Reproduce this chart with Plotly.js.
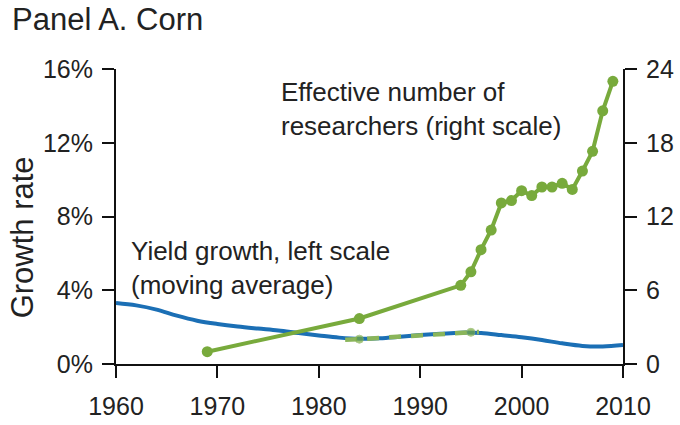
<!DOCTYPE html>
<html>
<head>
<meta charset="utf-8">
<script src="https://cdn.plot.ly/plotly-3.0.1.min.js"></script>
<style>
  html, body { margin: 0; padding: 0; background: white; }
  #chart { width: 680px; height: 425px; }
</style>
</head>
<body>
<div id="chart"></div>
<script>
// Yield growth (left scale, %), moving average
var yieldYears = [1960, 1962, 1964, 1966, 1968, 1970, 1972, 1974, 1976, 1978, 1980, 1982, 1984,
                  1986, 1988, 1990, 1992, 1994, 1996, 1998, 2000, 2002, 2004, 2006, 2008, 2010];
var yieldGrowth = [3.31, 3.18, 2.95, 2.62, 2.35, 2.17, 2.03, 1.92, 1.82, 1.68, 1.55, 1.43, 1.37,
                   1.40, 1.48, 1.57, 1.64, 1.70, 1.68, 1.57, 1.45, 1.30, 1.12, 0.98, 0.95, 1.03];

// Effective number of researchers (right scale)
var resYears = [1969, 1984, 1994, 1995, 1996, 1997, 1998, 1999, 2000, 2001,
                2002, 2003, 2004, 2005, 2006, 2007, 2008, 2009];
var researchers = [1.0, 3.7, 6.4, 7.5, 9.3, 10.9, 13.1, 13.3, 14.1, 13.7,
                   14.4, 14.4, 14.7, 14.2, 15.7, 17.3, 20.6, 23.0];

// faint dashed green segment lying on the yield line
var dashYears = [1982.6, 1984, 1995, 1995.8];
var dashValues = [1.98, 2.02, 2.58, 2.6];

var leftTicks = [0, 4, 8, 12, 16];
var leftLabels = ['0%', '4%', '8%', '12%', '16%'];
var rightTicks = [0, 6, 12, 18, 24];
var xTicks = [1960, 1970, 1980, 1990, 2000, 2010];

var blue = '#1b6fb5';
var green = '#78aa3c';

var traces = [
  {
    x: yieldYears, y: yieldGrowth, yaxis: 'y',
    type: 'scatter', mode: 'lines',
    line: { color: blue, width: 4, shape: 'spline', smoothing: 1.0 },
    hoverinfo: 'skip'
  },
  {
    x: dashYears, y: dashValues, yaxis: 'y2',
    type: 'scatter', mode: 'lines+markers',
    line: { color: '#8ab55a', width: 4.5, dash: '12px,10px' },
    marker: { color: green, size: [0, 8, 8, 0] },
    hoverinfo: 'skip'
  },
  {
    x: resYears, y: researchers, yaxis: 'y2',
    type: 'scatter', mode: 'lines+markers',
    line: { color: green, width: 4 },
    marker: { color: green, size: 11 },
    hoverinfo: 'skip'
  }
];

var tickFont = { family: 'Liberation Sans, Arial, sans-serif', size: 25, color: '#222' };

var layout = {
  width: 680, height: 425,
  plot_bgcolor: 'white', paper_bgcolor: 'white',
  showlegend: false,
  margin: { l: 116, r: 57, t: 69, b: 61 },
  font: { family: 'Liberation Sans, Arial, sans-serif', color: '#222' },
  title: {
    text: 'Panel A. Corn',
    font: { size: 31, color: '#222' },
    x: 12 / 680, xref: 'container', xanchor: 'left',
    y: 1 - 19 / 425, yref: 'container', yanchor: 'middle'
  },
  xaxis: {
    range: [1960, 2010], tickvals: xTicks,
    showgrid: false, zeroline: false,
    showline: true, linecolor: '#111', linewidth: 2,
    ticks: 'outside', ticklen: 12, tickwidth: 2, tickcolor: '#111',
    ticklabelstandoff: 7,
    tickfont: tickFont
  },
  yaxis: {
    range: [0, 16], tickvals: leftTicks, ticktext: leftLabels,
    showgrid: false, zeroline: false,
    showline: true, linecolor: '#111', linewidth: 2,
    ticks: 'outside', ticklen: 12, tickwidth: 2, tickcolor: '#111',
    ticklabelstandoff: 4,
    tickfont: tickFont
  },
  yaxis2: {
    range: [0, 24], tickvals: rightTicks,
    overlaying: 'y', side: 'right',
    showgrid: false, zeroline: false,
    showline: true, linecolor: '#111', linewidth: 2,
    ticks: 'outside', ticklen: 12, tickwidth: 2, tickcolor: '#111',
    ticklabelstandoff: 4,
    tickfont: tickFont
  },
  annotations: [
    {
      text: 'Growth rate', textangle: -90,
      xref: 'paper', yref: 'paper', x: -0.185, y: 0.43,
      xanchor: 'center', yanchor: 'middle', showarrow: false,
      font: { size: 31, color: '#222' }
    },
    {
      text: 'Effective number of<br>researchers (right scale)',
      xref: 'paper', yref: 'paper', x: 0.322, y: 0.98,
      xanchor: 'left', yanchor: 'top', align: 'left', showarrow: false,
      font: { size: 26, color: '#222' }
    },
    {
      text: 'Yield growth, left scale<br>(moving average)',
      xref: 'paper', yref: 'paper', x: 0.026, y: 0.44,
      xanchor: 'left', yanchor: 'top', align: 'left', showarrow: false,
      font: { size: 26, color: '#222' }
    }
  ]
};

Plotly.newPlot('chart', traces, layout, { displayModeBar: false, staticPlot: true });
</script>
</body>
</html>
